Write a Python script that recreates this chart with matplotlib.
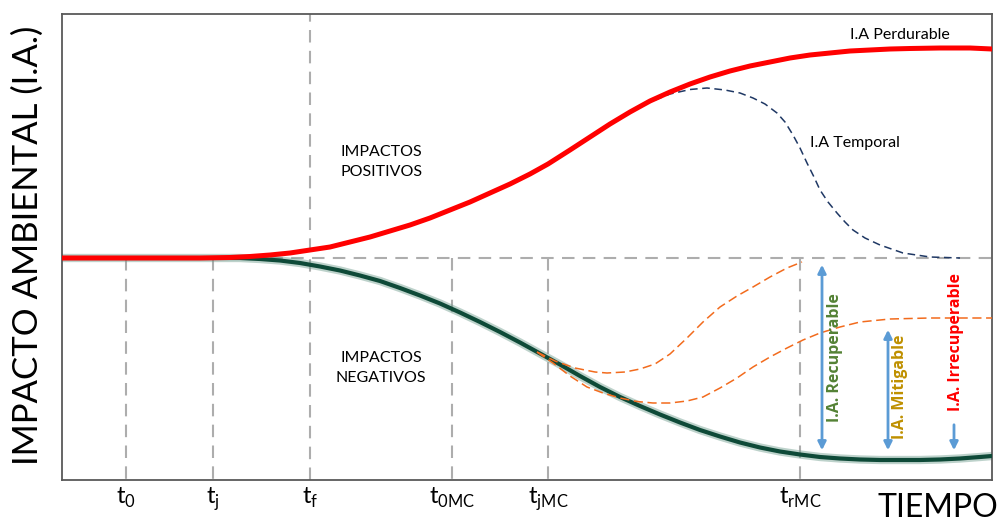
import matplotlib

matplotlib.use("Agg")
import matplotlib.pyplot as plt

plt.rcParams["font.family"] = ["Lato", "DejaVu Sans"]
plt.rcParams["mathtext.fontset"] = "custom"
plt.rcParams["mathtext.rm"] = "Lato"

# time axis: 0..930, impact axis: 0 = no impact, + positive, - negative
# I.A Perdurable (positive impact)
pos_x = [0, 138, 168, 188, 208, 228, 248, 268, 288, 308, 328, 348, 368, 388, 408, 428, 448, 468, 486, 508,
         528, 548, 568, 588, 608, 628, 648, 668, 688, 708, 728, 748, 768, 788, 808, 828, 848, 878, 908, 930]
pos_y = [0, 0, 0.5, 1.5, 3, 5, 8, 11, 16, 21, 27, 33, 40, 48, 56, 65, 74, 84, 94, 108,
         121, 134, 146, 157, 166, 174, 181, 187, 192, 196, 200, 203, 205, 207, 208, 209, 209.5, 210, 210, 209]

# negative impact (without corrective measures)
neg_x = [0, 138, 178, 198, 218, 238, 258, 278, 298, 318, 338, 358, 378, 398, 418, 438, 458, 478, 498, 518,
         538, 558, 578, 598, 618, 638, 658, 678, 698, 718, 738, 758, 778, 798, 818, 838, 858, 878, 898, 918, 930]
neg_y = [0, 0, 0, -1, -2.5, -5, -8.5, -12.5, -17.5, -23, -30, -37.5, -45.5, -54.5, -64, -74, -84.5, -95.5, -106.5, -118,
         -129, -139, -148, -156.5, -164.5, -172, -178.5, -184.5, -189.5, -193.5, -196.5, -199, -200.5, -201.5, -202,
         -202, -202, -201.5, -200.5, -199, -198]

# I.A Temporal
temp_x = [593, 608, 628, 645, 663, 678, 691, 703, 715, 723, 731, 738, 745, 752, 758, 766, 775, 783, 791, 803,
          818, 841, 868, 898]
temp_y = [158, 164, 168.5, 170, 168, 165, 160, 154, 145, 136, 123, 110, 95, 81, 68, 56, 45, 36, 28, 20,
          13, 5, 1, 0]

# recovered impact (I.A. Recuperable)
rec_x = [475, 493, 513, 533, 545, 563, 578, 593, 608, 625, 641, 658, 675, 691, 708, 725, 740]
rec_y = [-94, -103, -110, -114, -115, -114, -111, -106, -96, -80, -64, -49, -38, -29, -19, -10, -4]

# mitigated impact (I.A. Mitigable)
mit_x = [475, 491, 508, 525, 541, 558, 575, 591, 608, 625, 641, 658, 675, 691, 708, 725, 741, 758, 778, 798,
         828, 868, 930]
mit_y = [-94, -105, -118, -129, -135, -140, -143.5, -145, -145, -143, -139, -130, -120, -109, -99, -90, -82, -75,
         -69, -64, -61, -60, -60]

tick_pos = [64, 151, 248, 390, 486, 738]
tick_labels = [r"$\mathrm{t}_{\mathrm{0}}$", r"$\mathrm{t}_{\mathrm{j}}$", r"$\mathrm{t}_{\mathrm{f}}$",
               r"$\mathrm{t}_{\mathrm{0MC}}$", r"$\mathrm{t}_{\mathrm{jMC}}$", r"$\mathrm{t}_{\mathrm{rMC}}$"]

fig = plt.figure(figsize=(10.02, 5.22), dpi=100)
ax = fig.add_axes([62 / 1002, 42 / 522, 930 / 1002, 466 / 522])
ax.set_xlim(0, 930)
ax.set_ylim(-222, 244)

grey = "#ADADAD"
dash = (0, (6, 4))
ax.axhline(0, color=grey, lw=1.5, ls=dash, zorder=1)
for i, x in enumerate(tick_pos):
    if i == 2:
        ax.axvline(x, color=grey, lw=1.5, ls=dash, zorder=1)
    else:
        ax.plot([x, x], [0, -222], color=grey, lw=1.5, ls=dash, zorder=1)

ax.plot(neg_x, neg_y, color="#6E9C8C", lw=6, alpha=0.45, solid_capstyle="round", zorder=2)
ax.plot(neg_x, neg_y, color="#0E4A38", lw=3, solid_capstyle="round", zorder=3)
ax.plot(pos_x, pos_y, color="#FF0000", lw=3.6, solid_capstyle="round", zorder=4)
ax.plot(temp_x, temp_y, color="#1F3864", lw=1.1, ls=(0, (5, 3)), zorder=3)
ax.plot(rec_x, rec_y, color="#F26B1D", lw=1.1, ls=(0, (6, 3)), zorder=3)
ax.plot(mit_x, mit_y, color="#F26B1D", lw=1.1, ls=(0, (6, 3)), zorder=3)

blue = "#5B9BD5"
ax.annotate("", xy=(760, -4), xytext=(760, -195),
            arrowprops=dict(arrowstyle="<|-|>", color=blue, lw=2, mutation_scale=12))
ax.annotate("", xy=(826, -69), xytext=(826, -195),
            arrowprops=dict(arrowstyle="<|-|>", color=blue, lw=2, mutation_scale=12))
ax.annotate("", xy=(892, -195), xytext=(892, -164),
            arrowprops=dict(arrowstyle="-|>", color=blue, lw=2, mutation_scale=12))

bold = dict(rotation=90, ha="center", va="center", fontsize=11.5, fontweight="bold",
            family=["Open Sans", "DejaVu Sans"])
ax.text(773, -100, "I.A. Recuperable", color="#548235", **bold)
ax.text(838, -129, "I.A. Mitigable", color="#BF9000", **bold)
ax.text(894, -84, "I.A. Irrecuperable", color="#FF0000", **bold)

ax.text(838, 223, "I.A Perdurable", ha="center", va="center", fontsize=11.5)
ax.text(793, 115, "I.A Temporal", ha="center", va="center", fontsize=11.5)
ax.text(319, 96, "IMPACTOS\nPOSITIVOS", ha="center", va="center", fontsize=11.5, linespacing=1.5)
ax.text(319, -110, "IMPACTOS\nNEGATIVOS", ha="center", va="center", fontsize=11.5, linespacing=1.5)

ax.set_xticks(tick_pos, tick_labels, fontsize=17)
ax.tick_params(axis="x", length=0, pad=4)
ax.set_yticks([])
for s in ax.spines.values():
    s.set_color("#595959")
    s.set_linewidth(1.3)

fig.text(28 / 1002, 1 - 245 / 522, "IMPACTO AMBIENTAL (I.A.)", rotation=90,
         ha="center", va="center", fontsize=25)
fig.text(938 / 1002, 1 - 508 / 522, "TIEMPO", ha="center", va="center", fontsize=23)

fig.savefig("out.png", dpi=100)
